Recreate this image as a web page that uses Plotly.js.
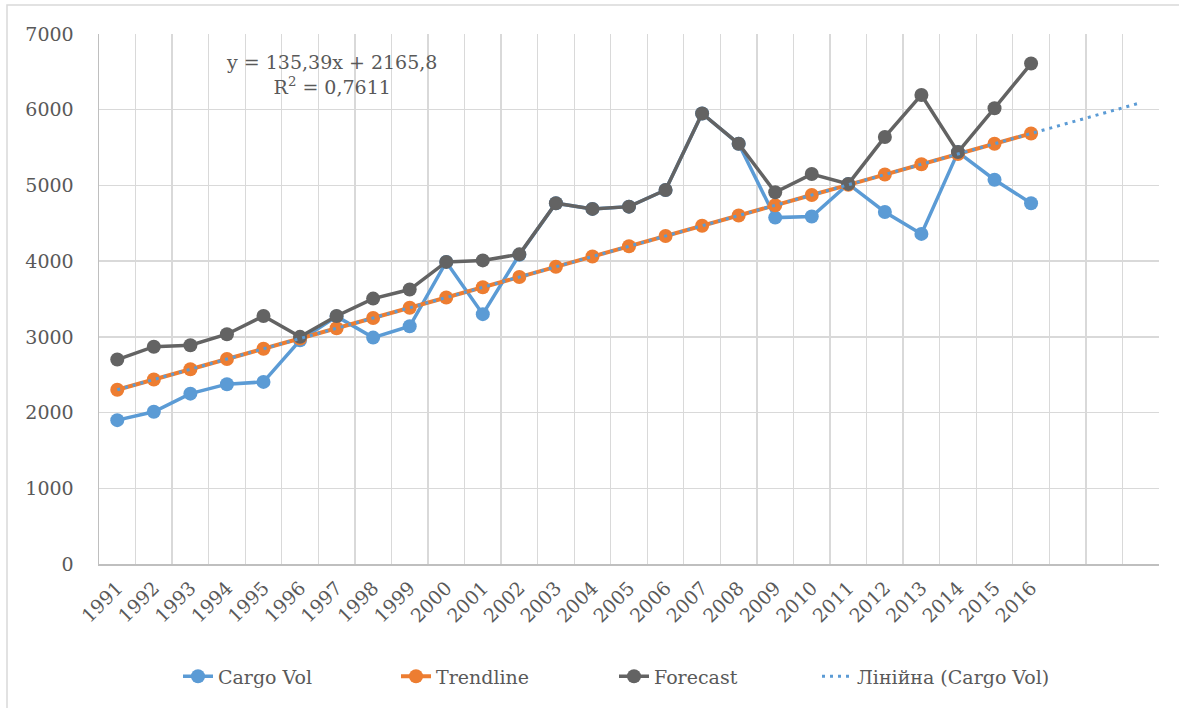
<!DOCTYPE html>
<html>
<head>
<meta charset="utf-8">
<script src="https://cdn.plot.ly/plotly-3.0.1.min.js"></script>
<style>html,body{margin:0;padding:0;background:#fff;}#chart{width:1179px;height:708px;}</style>
</head>
<body>
<div id="chart"></div>
<script>
// Category positions (1 = 1991 ... 26 = 2016; axis extends to 29)
const years = ["1991","1992","1993","1994","1995","1996","1997","1998","1999","2000","2001","2002","2003","2004","2005","2006","2007","2008","2009","2010","2011","2012","2013","2014","2015","2016"];
const xIndex = [1,2,3,4,5,6,7,8,9,10,11,12,13,14,15,16,17,18,19,20,21,22,23,24,25,26];

const cargoVol = [1900,2010,2250,2375,2405,2955,3270,2990,3140,3990,3300,4085,4765,4690,4720,4940,5950,5550,4575,4590,5020,4650,4360,5440,5075,4765];
const trendline = [2301,2437,2572,2707,2843,2978,3114,3249,3384,3520,3655,3790,3926,4061,4196,4332,4467,4602,4738,4873,5008,5144,5279,5414,5550,5686];
const forecast = [2700,2870,2890,3035,3275,3000,3275,3505,3625,3990,4010,4090,4765,4690,4720,4940,5950,5550,4910,5150,5020,5640,6195,5440,6020,6610];

// Linear trend of Cargo Vol (start and end of the extended line, 3 periods forward)
const linTrendX = [1, 29];
const linTrendY = [2301, 6092];

const boundaries = [];
for (let i = 0; i <= 29; i++) boundaries.push(i + 0.5);

const FONT = "DejaVu Serif";
const TXT = "#595959";

const traces = [
  {name: "Cargo Vol", x: xIndex, y: cargoVol, type: "scatter", mode: "lines+markers",
   line: {color: "#5B9BD5", width: 3.5}, marker: {color: "#5B9BD5", size: 14}, legend: "legend"},
  {name: "Trendline", x: xIndex, y: trendline, type: "scatter", mode: "lines+markers",
   line: {color: "#ED7D31", width: 4}, marker: {color: "#ED7D31", size: 14}, legend: "legend"},
  {name: "Forecast", x: xIndex, y: forecast, type: "scatter", mode: "lines+markers",
   line: {color: "#636363", width: 3.5}, marker: {color: "#636363", size: 14}, legend: "legend"},
  {name: "Лінійна (Cargo Vol)", x: linTrendX, y: linTrendY, type: "scatter", mode: "lines",
   line: {color: "#5B9BD5", width: 3, dash: "3px,5px"}, legend: "legend2"}
];

const legendFont = {family: FONT, size: 19, color: TXT};

const layout = {
  width: 1179, height: 708,
  margin: {l: 99, r: 20, t: 34, b: 144},
  paper_bgcolor: "#fff", plot_bgcolor: "#fff",
  font: {family: FONT, size: 19, color: TXT},
  showlegend: true,
  legend: {orientation: "h", x: (178 - 99) / 1060, xanchor: "left", y: -0.212, yanchor: "middle",
           font: legendFont, entrywidth: 173, traceorder: "normal", bgcolor: "rgba(0,0,0,0)"},
  legend2: {orientation: "h", x: (817 - 99) / 1060, xanchor: "left", y: -0.212, yanchor: "middle",
           font: legendFont, bgcolor: "rgba(0,0,0,0)"},
  xaxis: {
    range: [0.5, 29.5], tickmode: "array", tickvals: xIndex, ticktext: years,
    tickangle: -45, showgrid: false, zeroline: false,
    showline: true, linecolor: "#BFBFBF", linewidth: 1.5,
    ticks: "", ticklabelstandoff: 4, tickfont: {family: FONT, size: 19, color: TXT},
    minor: {tickmode: "array", tickvals: boundaries, showgrid: true, gridcolor: "#D9D9D9", gridwidth: 1.3, ticks: ""}
  },
  yaxis: {
    range: [0, 7000], dtick: 1000, tick0: 0, showgrid: true, gridcolor: "#D9D9D9", gridwidth: 1.3,
    zeroline: false, showline: true, linecolor: "#BFBFBF", linewidth: 1.5,
    ticks: "", ticklabelstandoff: 20, tickfont: {family: FONT, size: 19, color: TXT}
  },
  annotations: [
    {xref: "paper", yref: "paper", x: (331 - 99) / 1060, y: (563.5 - 74) / 530, xanchor: "center", yanchor: "middle",
     text: "y = 135,39x + 2165,8<br>R<sup>2</sup> = 0,7611", showarrow: false, align: "center",
     font: {family: FONT, size: 19, color: TXT}}
  ],
  shapes: [
    {type: "rect", xref: "paper", yref: "paper", x0: (7 - 99) / 1060, x1: (1190 - 99) / 1060,
     y0: (563.5 - 720) / 530, y1: (563.5 - 4.5) / 530, line: {color: "#D9D9D9", width: 1.5}, layer: "below"}
  ]
};

Plotly.newPlot("chart", traces, layout, {displayModeBar: false, staticPlot: true});
</script>
</body>
</html>
